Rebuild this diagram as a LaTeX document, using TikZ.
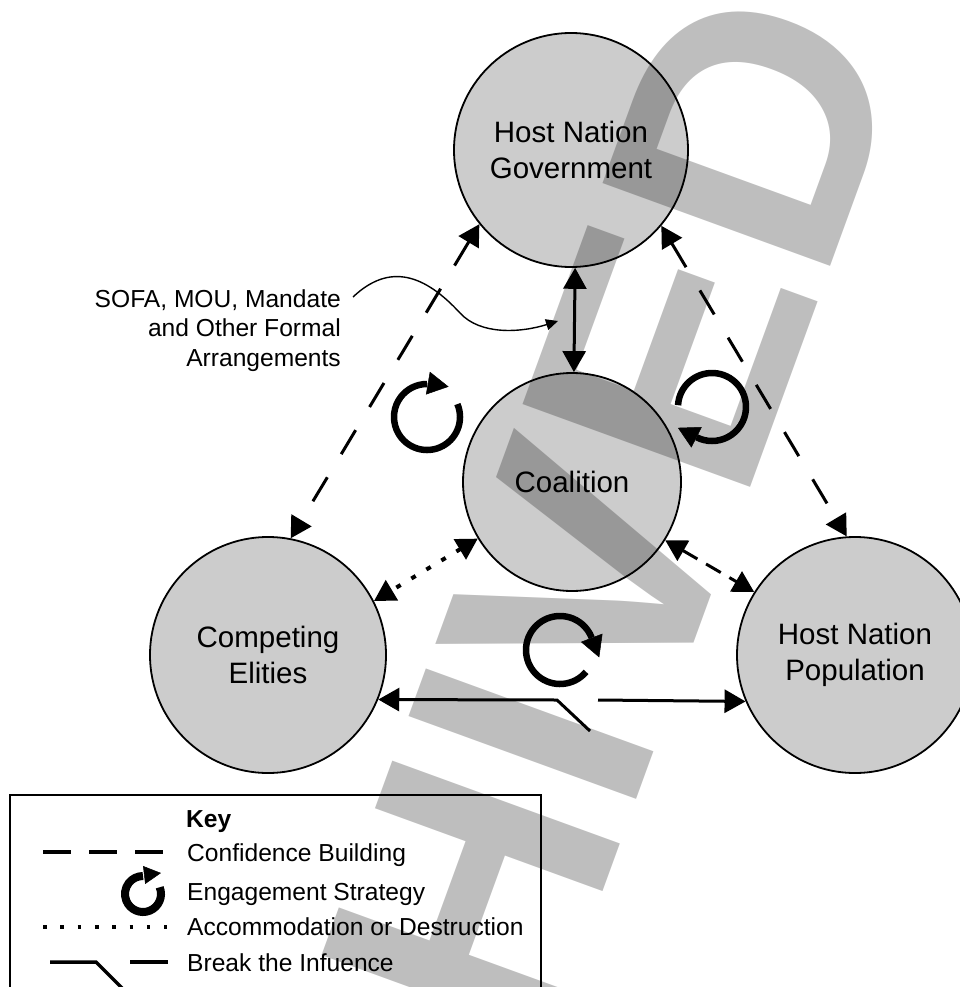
\documentclass[tikz,border=0pt]{standalone}
\usepackage{fontspec}
\setmainfont{Liberation Sans}
\usetikzlibrary{arrows.meta}
\definecolor{circfill}{RGB}{204,204,204}
\definecolor{wmlight}{RGB}{190,190,190}
\definecolor{wmdark}{RGB}{152,152,152}
\newcommand{\circfont}{\fontsize{29.5}{36}\selectfont}
\newcommand{\keyfont}{\fontsize{24.6}{29.5}\selectfont}
\newcommand{\wmfont}{\bfseries\fontsize{352}{352}\selectfont}
\begin{document}
\begin{tikzpicture}[x=1pt,y=1pt,
  >={Triangle[length=21pt,width=23pt]},
  circ/.style={circle, draw=black, line width=1.8pt, inner sep=0pt, align=center, font=\circfont},
  wm/.style={font=\wmfont, rotate=70, anchor=base east, inner sep=0pt, outer sep=0pt},
  longdash/.style={line width=3pt, dash pattern=on 28pt off 27pt, <->},
  shortdash/.style={line width=3pt, dash pattern=on 17pt off 10pt, <->},
  dotline/.style={line width=4pt, dash pattern=on 5pt off 12.5pt, <->},
  solidarrow/.style={line width=3pt, <->},
  brk/.style={line width=3pt},
  eng/.style={line width=6.5pt},
  engtip/.style={-{Triangle[length=21pt,width=23pt]}, line width=0.5pt},
  keytext/.style={anchor=base west, inner sep=0pt, font=\keyfont},
]
\useasboundingbox (0,0) rectangle (960,-987);

% watermark (light part)
\begin{scope}
  \clip (0,0) rectangle (960,-987);
  \node[wm, text=wmlight] (wmA) at (909.6,-49.4) {ARCHIVED};
\end{scope}

% circle fills
\fill[circfill] (571,-150) circle[radius=117];
\fill[circfill] (572,-482) circle[radius=109];
\fill[circfill] (268,-655) circle[radius=118];
\fill[circfill] (855,-655) circle[radius=118];

% watermark over circles (darker)
\begin{scope}
  \clip (571,-150) circle[radius=117] (572,-482) circle[radius=109]
        (268,-655) circle[radius=118] (855,-655) circle[radius=118];
  \node[wm, text=wmdark] (wmB) at (909.6,-49.4) {ARCHIVED};
\end{scope}

% nodes
\node[circ, minimum size=234pt] (hng) at (571,-150) {Host Nation\\Government};
\node[circ, minimum size=218pt] (coal) at (572,-482) {Coalition};
\node[circ, minimum size=236pt] (ce) at (268,-655) {Competing\\Elities};
\node[circ, minimum size=236pt] (hnp) at (855,-655) {Host Nation\\Population};

% connectors
\draw[longdash] (hng.-141.4) -- (ce.79.7);
\draw[longdash] (hng.-40.3) -- (hnp.94.3);
\draw[solidarrow] (hng.-88.6) -- (coal.89.5);
\draw[dotline] (coal.-149) -- (ce.27.2);
\draw[shortdash] (coal.-32.3) -- (hnp.148.5);

% break the influence connector
\coordinate (brkA) at (557,-700);
\coordinate (brkB) at (590,-731);
\coordinate (brkC) at (598,-700);
\draw[brk, <-] (ce.-22.2) -- (brkA) -- (brkB);
\draw[brk, ->] (brkC) -- (hnp.-157.8);

% SOFA label and curved pointer
\node[anchor=north east, inner sep=0pt, align=right, font=\keyfont] (sofa) at (341,-289)
  {SOFA, MOU, Mandate\\and Other Formal\\Arrangements};
\coordinate (sofaS) at (353,-297);
\coordinate (sofaE) at (558,-321);
\draw[line width=1.4pt, -{Triangle[length=12pt,width=11pt]}]
  (sofaS) .. controls (390,-262) and (425,-275) .. (460,-313)
          .. controls (480,-335) and (520,-333) .. (sofaE);

% engagement strategy symbols
\draw[eng] (427,-417) ++(23:33) arc[start angle=23, end angle=-270, radius=33];
\draw[engtip] (427,-383) -- (448.6,-386.7);
\draw[eng] (712,-407) ++(177:34) arc[start angle=177, end angle=-117, radius=34];
\draw[engtip] (696.6,-437.3) -- (677.9,-427.8);
\draw[eng] (560,-650) ++(-40:34) arc[start angle=-40, end angle=-339, radius=34];
\draw[engtip] (591.7,-637.8) -- (599.2,-657.4);

% key
\draw[line width=1.2pt] (10,-987) -- (10,-795) -- (541,-795) -- (541,-987);
\node[keytext, font=\keyfont\bfseries] (keyttl) at (186,-827) {Key};
\draw[line width=3.5pt, dash pattern=on 28pt off 18pt] (43,-852) -- (163,-852);
\node[keytext] (k1) at (187,-861) {Confidence Building};
\draw[line width=8pt] (143,-894) ++(22:18) arc[start angle=22, end angle=-270, radius=18];
\draw[-{Triangle[length=17pt,width=18pt]}, line width=0.5pt] (144,-875) -- (161,-873);
\node[keytext] (k2) at (187,-900) {Engagement Strategy};
\draw[line width=3.6pt, dash pattern=on 3.6pt off 13.7pt] (43,-927) -- (167,-927);
\node[keytext] (k3) at (187,-935) {Accommodation or Destruction};
\draw[line width=3.5pt] (50,-962) -- (96,-962) -- (123,-989);
\draw[line width=3.5pt] (130,-962) -- (168,-962);
\node[keytext] (k4) at (187,-971) {Break the Infuence};
\end{tikzpicture}
\end{document}
